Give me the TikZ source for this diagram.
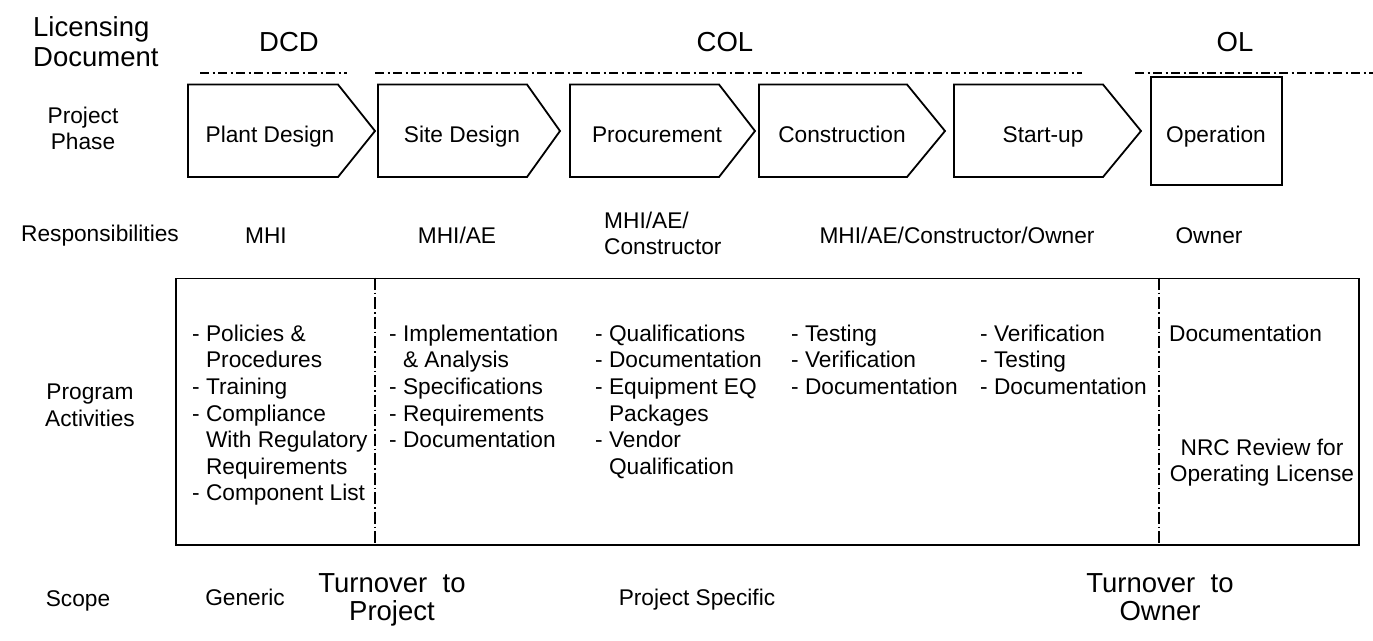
\documentclass[tikz,border=0pt]{standalone}
\usepackage{fontspec}
\setmainfont{Liberation Sans}
\usepackage{tikz}
\usetikzlibrary{positioning}
\tikzset{
    rowlabel/.style={
        align=center,
        inner sep=0pt,
        font=\fontsize{22.7}{26.6}\selectfont
    },
    biglabel/.style={
        inner sep=0pt,
        font=\fontsize{27.5}{30.5}\selectfont
    },
    bodytext/.style={
        anchor=base,
        inner sep=0pt,
        font=\fontsize{22.7}{26.6}\selectfont
    },
    activity/.style={
        anchor=north west,
        align=left,
        inner sep=0pt,
        font=\fontsize{22.7}{26.6}\selectfont
    },
    phasebox/.style={
        draw,
        line width=1.8pt,
        line join=miter
    },
    licline/.style={
        line width=1.6pt,
        dash pattern=on 9pt off 3.5pt on 2pt off 3.5pt
    },
    splitline/.style={
        line width=1.5pt,
        dash pattern=on 12pt off 3pt on 1.5pt off 3pt
    }
}

\begin{document}
\begin{tikzpicture}[x=1pt, y=-1pt]
        \useasboundingbox (0,0) rectangle (1373,640);

        % licensing documents
        \node[biglabel, anchor=north west, align=left] (licdoc) at (33,16.3) {Licensing\\Document};
        \node[biglabel, anchor=base] (dcd) at (289,51) {DCD};
        \node[biglabel, anchor=base] (col) at (725,51) {COL};
        \node[biglabel, anchor=base] (ol) at (1235,51) {OL};
        \draw[licline] (200,72.7) -- (347,72.7);
        \draw[licline] (375,72.7) -- (1082,72.7);
        \draw[licline] (1135,72.7) -- (1373,72.7);

        % project phases
        \node[rowlabel, anchor=north] (phase) at (83,106.6) {Project\\Phase};
        \draw[phasebox] (188,84.5) -- (338,84.5) -- (375,131) -- (338,177) -- (188,177) -- cycle;
        \draw[phasebox] (378,84.5) -- (527,84.5) -- (560,131) -- (527,177) -- (378,177) -- cycle;
        \draw[phasebox] (570,84.5) -- (719,84.5) -- (755,131) -- (719,177) -- (570,177) -- cycle;
        \draw[phasebox] (759,84.5) -- (907,84.5) -- (945,131) -- (907,177) -- (759,177) -- cycle;
        \draw[phasebox] (954,84.5) -- (1103,84.5) -- (1141,131) -- (1103,177) -- (954,177) -- cycle;
        \node[bodytext] (plant) at (270,142) {Plant Design};
        \node[bodytext] (site) at (462,142) {Site Design};
        \node[bodytext] (procure) at (657,142) {Procurement};
        \node[bodytext] (construct) at (842,142) {Construction};
        \node[bodytext] (startup) at (1043,142) {Start-up};
        \node[draw, line width=2pt, minimum width=131pt, minimum height=107.5pt,
              inner sep=0pt] (oper) at (1216.5,130.75) {};
        \node[bodytext] (opertext) at (1216,142) {Operation};

        % responsibilities
        \node[bodytext] (resp) at (100,241) {Responsibilities};
        \node[bodytext] (rmhi) at (266,243) {MHI};
        \node[bodytext] (rmhiae) at (457,243) {MHI/AE};
        \node[activity] (rproc) at (604,211.6) {MHI/AE/\\Constructor};
        \node[bodytext] (rall) at (957,243) {MHI/AE/Constructor/Owner};
        \node[bodytext] (rowner) at (1209,243) {Owner};

        % program activities
        \node[rowlabel, anchor=north] (prog) at (90,383.6) {Program\\Activities};
        \node[draw, line width=1.8pt, anchor=north west, minimum width=1183pt,
              minimum height=266.5pt, inner sep=0pt] (actbox) at (175,277.5) {};
        \coordinate (cut1) at (375,0);
        \coordinate (cut2) at (1159,0);
        \draw[splitline] (actbox.north -| cut1) -- (actbox.south -| cut1);
        \draw[splitline] (actbox.north -| cut2) -- (actbox.south -| cut2);

        \node[activity] (aplant) at (192,324.6) {
            - Policies \&\\
            \phantom{- }Procedures\\
            - Training\\
            - Compliance\\
            \phantom{- }With Regulatory\\
            \phantom{- }Requirements\\
            - Component List
        };
        \node[activity] (asite) at (389,324.6) {
            - Implementation\\
            \phantom{- }\& Analysis\\
            - Specifications\\
            - Requirements\\
            - Documentation
        };
        \node[activity] (aproc) at (595,324.6) {
            - Qualifications\\
            - Documentation\\
            - Equipment EQ\\
            \phantom{- }Packages\\
            - Vendor\\
            \phantom{- }Qualification
        };
        \node[activity] (aconst) at (791,324.6) {
            - Testing\\
            - Verification\\
            - Documentation
        };
        \node[activity] (astart) at (980,324.6) {
            - Verification\\
            - Testing\\
            - Documentation
        };
        \node[activity] (aoper) at (1169,324.6) {Documentation};
        \node[rowlabel, anchor=north] (nrc) at (1262,438.6) {NRC Review for\\Operating License};

        % scope
        \node[bodytext] (scope) at (78,606) {Scope};
        \node[bodytext] (generic) at (245,605) {Generic};
        \node[biglabel, anchor=north, align=center, font=\fontsize{27.5}{28}\selectfont] (toproj) at (392,573.8) {Turnover\ \ to\\Project};
        \node[bodytext] (specific) at (697,605) {Project Specific};
        \node[biglabel, anchor=north, align=center, font=\fontsize{27.5}{28}\selectfont] (toowner) at (1160,573.8) {Turnover\ \ to\\Owner};
    \end{tikzpicture}
\end{document}
